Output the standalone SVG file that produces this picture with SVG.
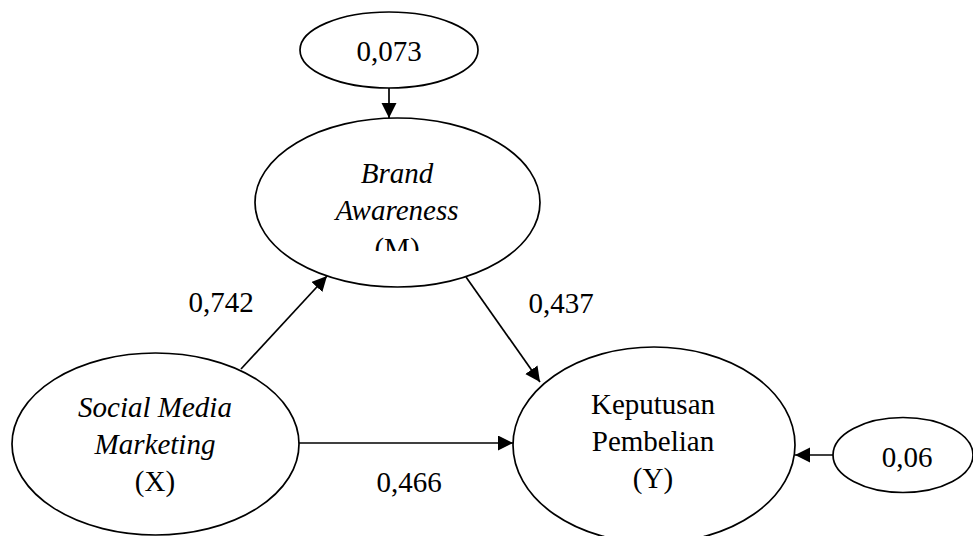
<svg xmlns="http://www.w3.org/2000/svg" width="973" height="536" viewBox="0 0 973 536">
<style>
.n{fill:#fff;stroke:#000;stroke-width:1.7}
.t{font-family:"Liberation Serif","Times New Roman",serif;font-size:29px;fill:#000;text-anchor:middle}
.i{font-style:italic}
.c{stroke:#000;stroke-width:1.7;fill:none;marker-end:url(#ah)}
</style>
<defs>
<marker id="ah" markerUnits="userSpaceOnUse" markerWidth="16" markerHeight="16" refX="15" refY="7.5" orient="auto">
<path d="M0,0 L15,7.5 L0,15 Z" fill="#000"/>
</marker>
<clipPath id="clipM"><rect x="250" y="110" width="300" height="141"/></clipPath>
</defs>
<rect width="973" height="536" fill="#fff"/>
<g id="e1">
<ellipse class="n" cx="389" cy="50" rx="89" ry="38"/>
<text class="t" x="389" y="61">0,073</text>
</g>
<g id="brand">
<ellipse class="n" cx="397.5" cy="202.5" rx="142.5" ry="84.5"/>
<text class="t i" x="397" y="183">Brand</text>
<text class="t i" x="397" y="220">Awareness</text>
<text class="t" x="397" y="258" clip-path="url(#clipM)">(M)</text>
</g>
<g id="smm">
<ellipse class="n" cx="155.5" cy="444" rx="143.5" ry="91"/>
<text class="t i" x="155" y="417">Social Media</text>
<text class="t i" x="155" y="454">Marketing</text>
<text class="t" x="155" y="491">(X)</text>
</g>
<g id="kp">
<ellipse class="n" cx="654" cy="445" rx="141" ry="98"/>
<text class="t" x="653" y="414">Keputusan</text>
<text class="t" x="653" y="451">Pembelian</text>
<text class="t" x="653" y="488">(Y)</text>
</g>
<g id="e2">
<ellipse class="n" cx="903" cy="455" rx="70" ry="37.5"/>
<text class="t" x="907" y="467">0,06</text>
</g>
<g id="connectors">
<line class="c" x1="389" y1="88" x2="389" y2="118"/>
<line class="c" x1="241" y1="369" x2="327" y2="276"/>
<line class="c" x1="466" y1="277" x2="540" y2="382"/>
<line class="c" x1="299" y1="443" x2="513" y2="443"/>
<line class="c" x1="833" y1="455" x2="795" y2="455"/>
</g>
<g id="labels">
<text class="t" x="221" y="312">0,742</text>
<text class="t" x="561" y="313">0,437</text>
<text class="t" x="409" y="492">0,466</text>
</g>
</svg>
